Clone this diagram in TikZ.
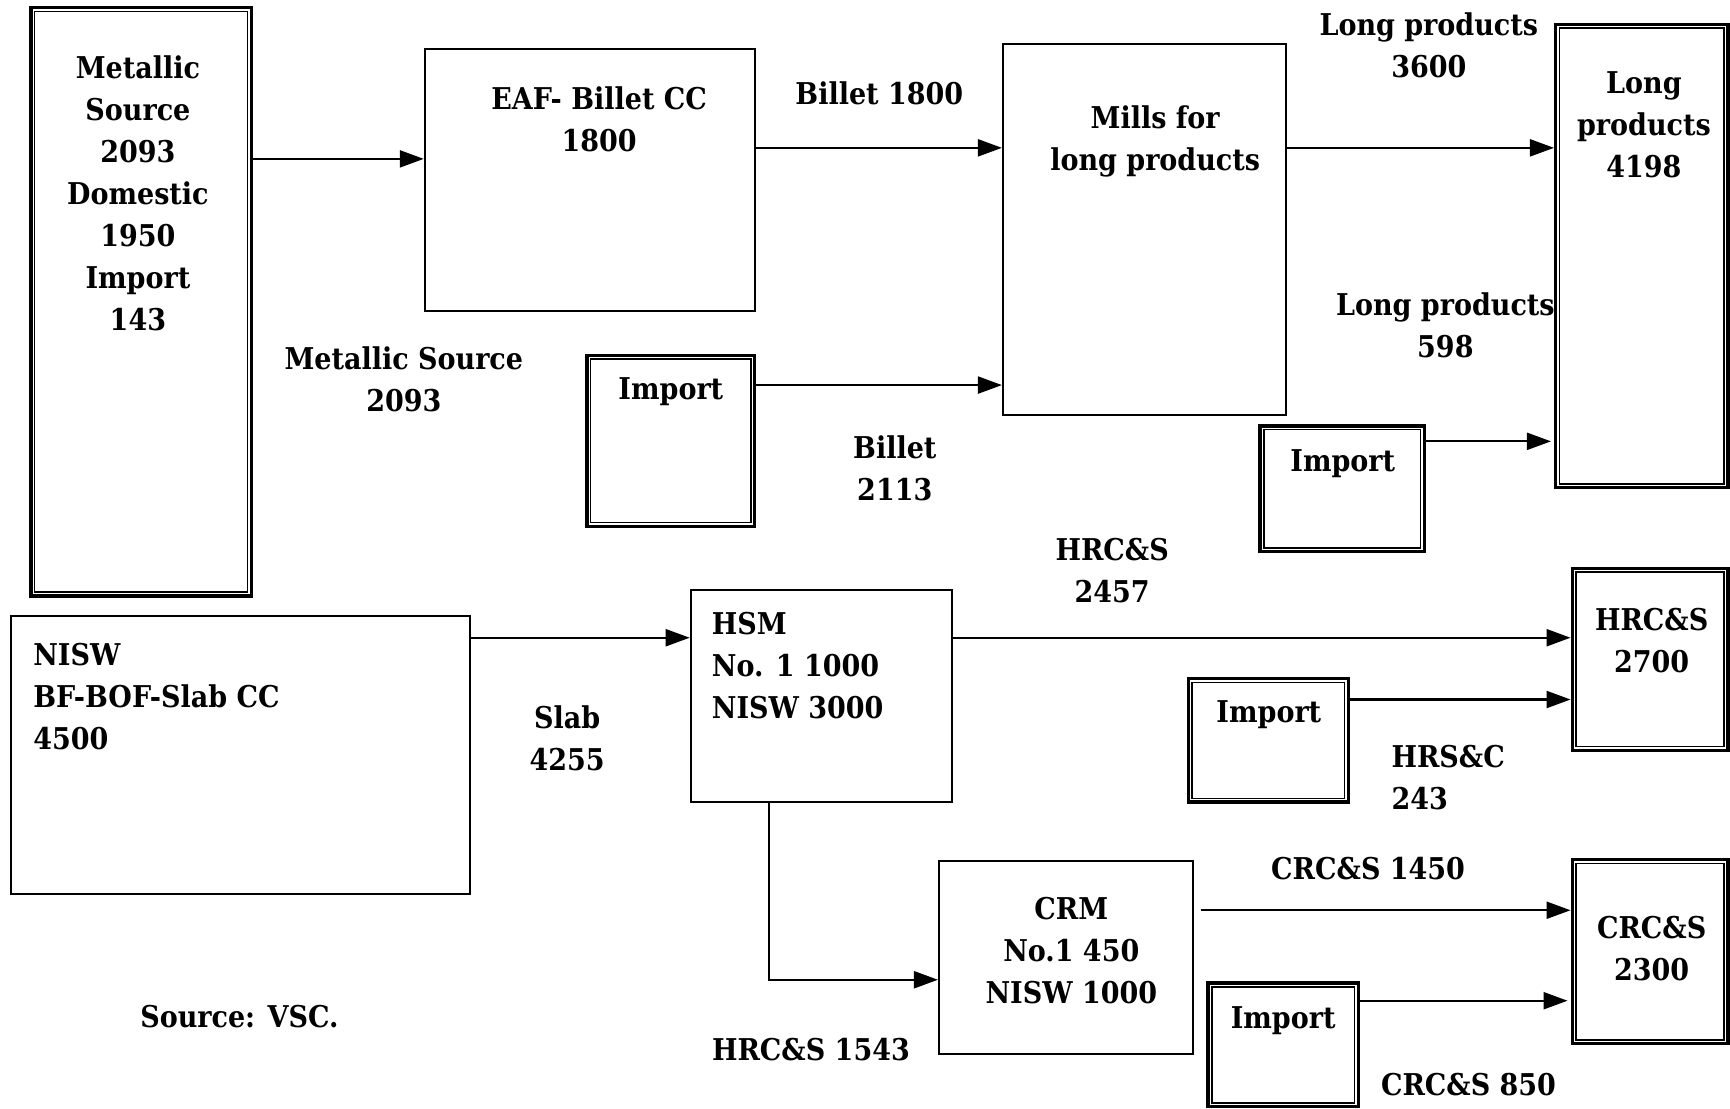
\documentclass[tikz,border=0pt]{standalone}
\usepackage{fontspec}
\setmainfont{DejaVu Serif Condensed}
\usetikzlibrary{arrows.meta,fit}
\begin{document}
\begin{tikzpicture}[x=1.1033pt,y=-1.1033pt,
  box/.style={draw, line width=2pt, inner sep=0pt},
  dbox/.style={draw, line width=3.4pt, inner sep=0pt},
  inner/.style={line width=1.4pt},
  txt/.style={font=\fontsize{30}{42}\selectfont\bfseries, align=center, inner sep=0pt},
  ltxt/.style={txt, align=left, anchor=west},
  arr/.style={line width=2.2pt, -{Triangle[length=24pt,width=17pt]}}]
\useasboundingbox (0,0) rectangle (1568,1005);
% boxes
\node[dbox, fit={(28,7) (228,540)}] (ms) {};
\node[box, fit={(385,44) (684,282)}] (eaf) {};
\node[box, fit={(909,40) (1166,376)}] (mills) {};
\node[dbox, fit={(532,322) (684,477)}] (imp1) {};
\node[dbox, fit={(1410,22) (1566,442)}] (lp) {};
\node[dbox, fit={(1142,386) (1291,500)}] (imp2) {};
\node[box, fit={(10,558) (426,810)}] (nisw) {};
\node[box, fit={(626,535) (863,727)}] (hsm) {};
\node[dbox, fit={(1425,515) (1566,680)}] (hrc) {};
\node[dbox, fit={(1077,615) (1222,727)}] (imp3) {};
\node[box, fit={(851,780) (1081,955)}] (crm) {};
\node[dbox, fit={(1425,779) (1566,946)}] (crc) {};
\node[dbox, fit={(1095,891) (1231,1003)}] (imp4) {};
\foreach \n in {ms,imp1,lp,imp2,hrc,imp3,crc,imp4}
  \draw[inner] ([shift={(5.5pt,-5.5pt)}]\n.north west) rectangle ([shift={(-5.5pt,5.5pt)}]\n.south east);
% box texts
\node[txt] (tms) at (125,175.5) {Metallic\\Source\\2093\\Domestic\\1950\\Import\\143};
\node[txt] (teaf) at (543,108.5) {EAF- Billet CC\\1800};
\node[txt] (tmills) at (1047,128) {Mills for\\long products};
\node[txt] (timp1) at (608,355) {Import};
\node[txt] (tlp) at (1490,113) {Long\\products\\4198};
\node[txt] (timp2) at (1217,420) {Import};
\node[ltxt] (tnisw) at (30,631.5) {NISW\\BF-BOF-Slab CC\\4500};
\node[ltxt] (thsm) at (645,603.5) {HSM\\No. 1 1000\\NISW 3000};
\node[txt] (thrc) at (1497,580.5) {HRC\&S\\2700};
\node[txt] (timp3) at (1150,648) {Import};
\node[txt] (tcrm) at (971,861.5) {CRM\\No.1 450\\NISW 1000};
\node[txt] (tcrc) at (1497,860) {CRC\&S\\2300};
\node[txt] (timp4) at (1163,925) {Import};
% labels
\node[txt] (l1) at (366,343.5) {Metallic Source\\2093};
\node[txt] (l2) at (797,85) {Billet 1800};
\node[txt] (l3) at (811,424.5) {Billet\\2113};
\node[txt] (l4) at (1295,41.5) {Long products\\3600};
\node[txt] (l5) at (1310,294.5) {Long products\\598};
\node[txt] (l6) at (514,669) {Slab\\4255};
\node[txt] (l7) at (1008,517.5) {HRC\&S\\2457};
\node[ltxt] (l8) at (1261,704.5) {HRS\&C\\243};
\node[txt] (l9) at (735,951) {HRC\&S 1543};
\node[txt] (l10) at (1240,787) {CRC\&S 1450};
\node[txt] (l11) at (1331,983) {CRC\&S 850};
\node[txt] (src) at (217,921) {Source: VSC.};
% connectors
\draw[arr] (ms.east |- 0,144) -- (eaf.west |- 0,144);
\draw[arr] (eaf.east |- 0,134) -- (mills.west |- 0,134);
\draw[arr] (imp1.east |- 0,349) -- (mills.west |- 0,349);
\draw[arr] (mills.east |- 0,134) -- (lp.west |- 0,134);
\draw[arr, shorten >=3pt] (imp2.east |- 0,400) -- (lp.west |- 0,400);
\draw[arr] (nisw.east |- 0,578) -- (hsm.west |- 0,578);
\draw[arr] (hsm.east |- 0,578) -- (hrc.west |- 0,578);
\draw[arr] (imp3.east |- 0,634) -- (hrc.west |- 0,634);
\draw[arr] (hsm.south -| 697,0) |- (crm.west |- 0,888);
\draw[arr, shorten <=7pt] (crm.east |- 0,825) -- (crc.west |- 0,825);
\draw[arr, shorten >=3pt] (imp4.east |- 0,907) -- (crc.west |- 0,907);
\end{tikzpicture}
\end{document}
